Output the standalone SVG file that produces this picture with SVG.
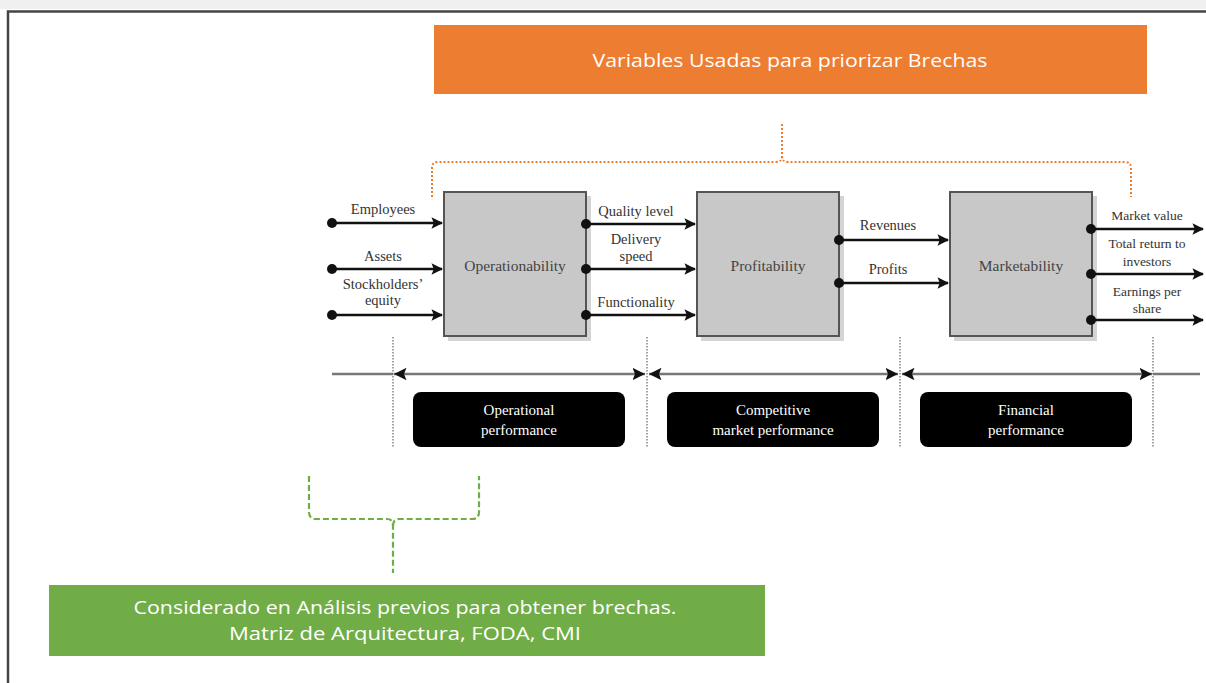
<svg xmlns="http://www.w3.org/2000/svg" width="1206" height="683" viewBox="0 0 1206 683">
<defs>
<style>
.lbl{font-family:"Liberation Serif",serif;font-size:14.5px;fill:#333;text-anchor:middle}
.rlbl{font-family:"Liberation Serif",serif;font-size:13.5px;fill:#333;text-anchor:middle}
.node{font-family:"Liberation Serif",serif;font-size:15.5px;fill:#444;text-anchor:middle}
.wlbl{font-family:"Liberation Serif",serif;font-size:15px;fill:#fff;text-anchor:middle}
.box{fill:#c8c8c8;stroke:#555;stroke-width:2}
.shadow{fill:#d4d4d4}
.flow{stroke:#111;stroke-width:2.6;fill:none}
.dot{fill:#111}
.axis{stroke:#777;stroke-width:2.5;fill:none}
.vdot{stroke:#666;stroke-width:1.2;stroke-dasharray:1.5 1.5;fill:none}
.cal{font-family:"Open Sans","Noto Sans",sans-serif;fill:#fff;text-anchor:middle}
</style>
<marker id="arr" viewBox="0 0 10 10" refX="9" refY="5" markerWidth="4.5" markerHeight="4.5" orient="auto" markerUnits="strokeWidth">
<path d="M0,0 L10,5 L0,10 L2,5 z" fill="#111"/>
</marker>
<marker id="ax" viewBox="0 0 10 10" refX="10" refY="5" markerWidth="5" markerHeight="5" orient="auto-start-reverse" markerUnits="strokeWidth">
<path d="M0,0 L10,5 L0,10 L2,5 z" fill="#111"/>
</marker>
</defs>
<rect width="1206" height="683" fill="#fff"/>
<rect x="0" y="0" width="1206" height="9" fill="#f0f0f0"/>
<path d="M8,683 V11.5 H1206" stroke="#444" stroke-width="2.5" fill="none"/>

<g id="title">
<rect x="434" y="25" width="713" height="69" fill="#ED7D31"/>
<text class="cal" x="790" y="67" font-size="19" textLength="395" lengthAdjust="spacingAndGlyphs">Variables Usadas para priorizar Brechas</text>
</g>

<g id="operationability">
<rect class="shadow" x="448" y="196" width="143" height="145"/>
<rect class="box" x="444" y="192" width="142" height="144"/>
<text class="node" x="515" y="271">Operationability</text>
</g>
<g id="profitability">
<rect class="shadow" x="701" y="196" width="143" height="145"/>
<rect class="box" x="697" y="192" width="142" height="144"/>
<text class="node" x="768" y="271">Profitability</text>
</g>
<g id="marketability">
<rect class="shadow" x="954" y="196" width="143" height="145"/>
<rect class="box" x="950" y="192" width="142" height="144"/>
<text class="node" x="1021" y="271">Marketability</text>
</g>

<g id="connectors">
<path class="flow" d="M332,223 H442" marker-end="url(#arr)"/>
<path class="flow" d="M332,269 H442" marker-end="url(#arr)"/>
<path class="flow" d="M332,315 H442" marker-end="url(#arr)"/>
<circle class="dot" cx="332" cy="223" r="5"/>
<circle class="dot" cx="332" cy="269" r="5"/>
<circle class="dot" cx="332" cy="315" r="5"/>
<path class="flow" d="M586,224 H695" marker-end="url(#arr)"/>
<path class="flow" d="M586,269 H695" marker-end="url(#arr)"/>
<path class="flow" d="M586,315 H695" marker-end="url(#arr)"/>
<circle class="dot" cx="586" cy="224" r="5"/>
<circle class="dot" cx="586" cy="269" r="5"/>
<circle class="dot" cx="586" cy="315" r="5"/>
<path class="flow" d="M839,240 H948" marker-end="url(#arr)"/>
<path class="flow" d="M839,283 H948" marker-end="url(#arr)"/>
<circle class="dot" cx="839" cy="240" r="5"/>
<circle class="dot" cx="839" cy="283" r="5"/>
<path class="flow" d="M1091,229 H1203" marker-end="url(#arr)"/>
<path class="flow" d="M1091,274 H1203" marker-end="url(#arr)"/>
<path class="flow" d="M1091,320 H1203" marker-end="url(#arr)"/>
<circle class="dot" cx="1091" cy="229" r="5"/>
<circle class="dot" cx="1091" cy="274" r="5"/>
<circle class="dot" cx="1091" cy="320" r="5"/>

<path class="axis" d="M332,374 H393"/>
<path class="axis" d="M1153,374 H1200"/>
<path class="axis" d="M394,374 H645" marker-start="url(#ax)" marker-end="url(#ax)"/>
<path class="axis" d="M649,374 H898" marker-start="url(#ax)" marker-end="url(#ax)"/>
<path class="axis" d="M902,374 H1152" marker-start="url(#ax)" marker-end="url(#ax)"/>
<path class="vdot" d="M393,337 V447"/>
<path class="vdot" d="M647,337 V447"/>
<path class="vdot" d="M900,337 V447"/>
<path class="vdot" d="M1153,337 V447"/>

<path d="M432,197 V168 Q432,162 438,162 H776 Q782,162 782,156 V122 M782,156 Q782,162 788,162 H1125 Q1131,162 1131,168 V197" stroke="#ED7D31" stroke-width="2" stroke-dasharray="2 2" fill="none"/>
<path d="M309,476 V512 Q309,519 316,519 H387 Q393,519 393,526 V573 M393,526 Q393,519 399,519 H472 Q479,519 479,512 V476" stroke="#70AD47" stroke-width="2.2" stroke-dasharray="6 3" fill="none"/>
</g>

<g id="labels">
<text class="lbl" x="383" y="214">Employees</text>
<text class="lbl" x="383" y="261">Assets</text>
<text class="lbl" x="383" y="289">Stockholders’</text>
<text class="lbl" x="383" y="305">equity</text>
<text class="lbl" x="636" y="216">Quality level</text>
<text class="lbl" x="636" y="244">Delivery</text>
<text class="lbl" x="636" y="261">speed</text>
<text class="lbl" x="636" y="307">Functionality</text>
<text class="lbl" x="888" y="230">Revenues</text>
<text class="lbl" x="888" y="274">Profits</text>
<text class="rlbl" x="1147" y="220">Market value</text>
<text class="rlbl" x="1147" y="248">Total return to</text>
<text class="rlbl" x="1147" y="266">investors</text>
<text class="rlbl" x="1147" y="296">Earnings per</text>
<text class="rlbl" x="1147" y="313">share</text>
</g>

<g id="operational-performance">
<rect x="413" y="392" width="212" height="55" rx="8" fill="#000"/>
<text class="wlbl" x="519" y="415">Operational</text>
<text class="wlbl" x="519" y="435">performance</text>
</g>
<g id="competitive-performance">
<rect x="667" y="392" width="212" height="55" rx="8" fill="#000"/>
<text class="wlbl" x="773" y="415">Competitive</text>
<text class="wlbl" x="773" y="435">market performance</text>
</g>
<g id="financial-performance">
<rect x="920" y="392" width="212" height="55" rx="8" fill="#000"/>
<text class="wlbl" x="1026" y="415">Financial</text>
<text class="wlbl" x="1026" y="435">performance</text>
</g>

<g id="considered">
<rect x="49" y="585" width="716" height="71" fill="#70AD47"/>
<text class="cal" x="405" y="614" font-size="18" textLength="543" lengthAdjust="spacingAndGlyphs">Considerado en Análisis previos para obtener brechas.</text>
<text class="cal" x="405" y="640" font-size="18" textLength="352" lengthAdjust="spacingAndGlyphs">Matriz de Arquitectura, FODA, CMI</text>
</g>
</svg>
